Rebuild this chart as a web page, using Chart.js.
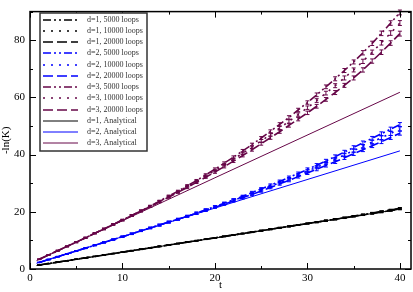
<!DOCTYPE html>
<html>
<head>
<meta charset="utf-8">
<script src="https://cdn.jsdelivr.net/npm/chart.js@4.4.1/dist/chart.umd.min.js"></script>
<style>
  body { margin: 0; background: #fff; }
  canvas { display: block; }
</style>
</head>
<body>
<canvas id="chart" width="413" height="292"></canvas>
<script>
// time steps of the simulations
const tSim = [1,2,3,4,5,6,7,8,9,10,11,12,13,14,15,16,17,18,19,20,
              21,22,23,24,25,26,27,28,29,30,31,32,33,34,35,36,37,38,39,40];

// d=1
const d1_5000  = [1.4,1.9,2.4,2.9,3.4,3.9,4.4,4.9,5.4,5.9,6.4,6.9,7.4,7.9,8.4,8.9,9.4,9.9,10.4,10.9,
                  11.4,11.9,12.4,12.9,13.4,13.9,14.4,14.9,15.4,15.9,16.4,16.9,17.4,17.95,18.5,19.0,19.55,20.1,20.65,21.25];
const d1_10000 = [1.4,1.9,2.4,2.9,3.4,3.9,4.4,4.9,5.4,5.9,6.4,6.9,7.4,7.9,8.4,8.9,9.4,9.9,10.4,10.9,
                  11.4,11.9,12.4,12.9,13.4,13.9,14.4,14.9,15.4,15.9,16.4,16.9,17.4,17.9,18.45,18.95,19.5,20.0,20.55,21.1];
const d1_20000 = [1.4,1.9,2.4,2.9,3.4,3.9,4.4,4.9,5.4,5.9,6.4,6.9,7.4,7.9,8.4,8.9,9.4,9.9,10.4,10.9,
                  11.4,11.9,12.4,12.9,13.4,13.9,14.4,14.9,15.4,15.9,16.4,16.9,17.4,17.85,18.4,18.9,19.45,19.9,20.45,20.95];
// d=2
const d2_5000  = [2.3,3.3,4.3,5.3,6.3,7.3,8.3,9.3,10.3,11.3,12.3,13.35,14.35,15.35,16.4,17.4,18.45,19.5,20.7,21.8,
                  23.0,24.2,25.4,26.7,28.0,29.3,30.6,32.0,33.4,34.8,36.3,37.8,39.3,40.9,42.5,44.1,45.7,47.3,48.9,50.5];
const d2_10000 = [2.3,3.3,4.3,5.3,6.3,7.3,8.3,9.3,10.3,11.3,12.3,13.35,14.35,15.35,16.4,17.4,18.45,19.5,20.6,21.7,
                  22.85,24.0,25.2,26.4,27.65,28.9,30.2,31.5,32.85,34.2,35.6,37.0,38.4,39.9,41.4,42.9,44.4,45.9,47.4,49.0];
const d2_20000 = [2.3,3.3,4.3,5.3,6.3,7.3,8.3,9.3,10.3,11.3,12.3,13.35,14.35,15.35,16.4,17.4,18.45,19.5,20.5,21.6,
                  22.7,23.8,24.9,26.1,27.3,28.5,29.8,31.0,32.3,33.6,34.9,36.2,37.5,38.9,40.3,41.7,43.1,44.5,46.0,47.5];
// d=3
const d3_5000  = [3.4,4.9,6.4,7.9,9.4,10.9,12.5,14.0,15.6,17.1,18.7,20.3,22.0,23.7,25.5,27.2,29.1,30.9,32.9,34.9,
                  37.0,39.1,41.3,43.5,45.8,48.1,50.6,53.0,55.6,58.2,60.9,63.7,66.5,69.4,72.4,75.6,78.9,82.4,86.0,89.7];
const d3_10000 = [3.4,4.9,6.4,7.9,9.4,10.9,12.5,14.0,15.6,17.1,18.7,20.3,21.9,23.6,25.3,27.0,28.8,30.6,32.5,34.4,
                  36.4,38.4,40.5,42.6,44.8,47.0,49.3,51.6,54.0,56.4,58.9,61.5,64.1,66.8,69.6,72.6,75.8,79.1,82.5,86.0];
const d3_20000 = [3.4,4.9,6.4,7.9,9.4,10.9,12.5,14.0,15.6,17.1,18.7,20.3,21.8,23.5,25.1,26.8,28.5,30.3,32.1,33.9,
                  35.8,37.7,39.7,41.7,43.8,45.9,48.0,50.2,52.4,54.6,56.9,59.3,61.7,64.2,66.8,69.6,72.7,75.8,79.0,82.3];

// error bar half-heights
const errD1 = [0.05,0.05,0.05,0.05,0.05,0.05,0.05,0.05,0.05,0.05,0.1,0.1,0.1,0.1,0.1,0.1,0.1,0.1,0.1,0.1,
               0.1,0.1,0.1,0.15,0.15,0.15,0.15,0.15,0.15,0.15,0.2,0.2,0.2,0.2,0.2,0.2,0.25,0.25,0.25,0.25];
const errD2 = [0.05,0.1,0.1,0.1,0.15,0.15,0.15,0.2,0.2,0.2,0.25,0.25,0.25,0.3,0.3,0.3,0.3,0.35,0.35,0.35,
               0.4,0.4,0.4,0.45,0.45,0.45,0.5,0.5,0.5,0.55,0.55,0.55,0.6,0.6,0.6,0.65,0.65,0.65,0.7,0.7];
const errD3 = [0.1,0.1,0.15,0.15,0.2,0.2,0.2,0.25,0.25,0.25,0.3,0.3,0.3,0.35,0.35,0.35,0.4,0.4,0.4,0.45,
               0.45,0.45,0.5,0.5,0.5,0.55,0.55,0.6,0.6,0.6,0.65,0.65,0.7,0.7,0.7,0.75,0.75,0.8,0.8,0.85];

// analytical lines (straight)
const tAna = [0.7, 20, 40];
const ana1 = [1.2, 10.85, 20.9];
const ana2 = [2.0, 21.3, 41.3];
const ana3 = [2.9, 31.9, 61.8];

const xTickStep = 5;
const yTickStep = 10;

const BLACK = '#000000', BLUE = '#0000ff', MAROON = '#670748';
const DASHDOT = [8, 3, 2, 3, 2, 3], DOTS = [2, 6], DASHES = [10, 4];
const FONT = "'Liberation Serif', 'Times New Roman', serif";

function pts(ts, vs) {
    return ts.map((t, i) => ({ x: t, y: vs[i] }));
}

function sim(label, vals, errs, color, dash) {
    return {
        label: label, data: pts(tSim, vals), errs: errs,
        borderColor: color, borderDash: dash, borderWidth: 1.6,
        pointRadius: 0, tension: 0, fill: false
    };
}

function analytic(label, vals, color) {
    return {
        label: label, data: pts(tAna, vals),
        borderColor: color, borderDash: [], borderWidth: 1,
        pointRadius: 0, tension: 0, fill: false
    };
}

// error bars through the y scale
const errorBars = {
    id: 'errorBars',
    afterDatasetsDraw(chart) {
        const ctx = chart.ctx;
        const ys = chart.scales.y;
        ctx.save();
        ctx.lineWidth = 1;
        ctx.setLineDash([]);
        chart.data.datasets.forEach((ds, i) => {
            if (!ds.errs) return;
            const meta = chart.getDatasetMeta(i);
            ctx.strokeStyle = ds.borderColor;
            ctx.beginPath();
            meta.data.forEach((pt, j) => {
                const v = ds.data[j].y, e = ds.errs[j];
                const yt = ys.getPixelForValue(v + e), yb = ys.getPixelForValue(v - e);
                ctx.moveTo(pt.x, yt); ctx.lineTo(pt.x, yb);
                ctx.moveTo(pt.x - 2, yt); ctx.lineTo(pt.x + 2, yt);
                ctx.moveTo(pt.x - 2, yb); ctx.lineTo(pt.x + 2, yb);
            });
            ctx.stroke();
        });
        ctx.restore();
    }
};

// frame with inward ticks on all four sides
const frameTicks = {
    id: 'frameTicks',
    afterDatasetsDraw(chart) {
        const ctx = chart.ctx;
        const a = chart.chartArea;
        const xs = chart.scales.x, ys = chart.scales.y;
        ctx.save();
        ctx.strokeStyle = '#000';
        ctx.setLineDash([]);
        ctx.lineWidth = 1.5;
        ctx.strokeRect(a.left, a.top, a.right - a.left, a.bottom - a.top);
        ctx.lineWidth = 1;
        ctx.beginPath();
        xs.ticks.forEach(t => {
            const px = Math.round(xs.getPixelForValue(t.value)) + 0.5;
            const len = t.value % 10 === 0 ? 6 : 3;
            ctx.moveTo(px, a.bottom); ctx.lineTo(px, a.bottom - len);
            ctx.moveTo(px, a.top); ctx.lineTo(px, a.top + len);
        });
        ys.ticks.forEach(t => {
            const py = Math.round(ys.getPixelForValue(t.value)) + 0.5;
            const len = t.value % 20 === 0 ? 6 : 3;
            ctx.moveTo(a.left, py); ctx.lineTo(a.left + len, py);
            ctx.moveTo(a.right, py); ctx.lineTo(a.right - len, py);
        });
        ctx.stroke();
        ctx.restore();
    }
};

// boxed legend inside the plot
const legendBox = {
    id: 'legendBox',
    afterDraw(chart) {
        const ctx = chart.ctx;
        const x0 = 40, y0 = 13, w = 107, h = 138, row = 11.25;
        ctx.save();
        ctx.fillStyle = '#fff';
        ctx.fillRect(x0, y0, w, h);
        ctx.strokeStyle = '#333';
        ctx.lineWidth = 1.5;
        ctx.strokeRect(x0, y0, w, h);
        ctx.font = '8px ' + FONT;
        ctx.textBaseline = 'middle';
        chart.data.datasets.forEach((ds, i) => {
            const y = Math.round(y0 + 6.5 + i * row);
            ctx.beginPath();
            ctx.setLineDash(ds.borderDash);
            ctx.strokeStyle = ds.borderColor;
            ctx.lineWidth = ds.borderWidth;
            ctx.moveTo(43, y);
            ctx.lineTo(78, y);
            ctx.stroke();
            ctx.setLineDash([]);
            ctx.fillStyle = '#333';
            ctx.fillText(ds.label, 87, y);
        });
        ctx.restore();
    }
};

new Chart(document.getElementById('chart'), {
    type: 'line',
    data: {
        datasets: [
            sim('d=1, 5000 loops', d1_5000, errD1, BLACK, DASHDOT),
            sim('d=1, 10000 loops', d1_10000, errD1, BLACK, DOTS),
            sim('d=1, 20000 loops', d1_20000, errD1, BLACK, DASHES),
            sim('d=2, 5000 loops', d2_5000, errD2, BLUE, DASHDOT),
            sim('d=2, 10000 loops', d2_10000, errD2, BLUE, DOTS),
            sim('d=2, 20000 loops', d2_20000, errD2, BLUE, DASHES),
            sim('d=3, 5000 loops', d3_5000, errD3, MAROON, DASHDOT),
            sim('d=3, 10000 loops', d3_10000, errD3, MAROON, DOTS),
            sim('d=3, 20000 loops', d3_20000, errD3, MAROON, DASHES),
            analytic('d=1, Analytical', ana1, BLACK),
            analytic('d=2, Analytical', ana2, BLUE),
            analytic('d=3, Analytical', ana3, MAROON)
        ]
    },
    options: {
        responsive: false,
        animation: false,
        devicePixelRatio: 1,
        layout: { padding: { top: 2, right: 2, left: 0, bottom: 0 } },
        plugins: {
            legend: { display: false },
            tooltip: { enabled: false }
        },
        scales: {
            x: {
                type: 'linear',
                min: 0,
                max: 41.2,
                grid: { display: false, drawTicks: false },
                border: { display: false },
                ticks: {
                    stepSize: xTickStep,
                    includeBounds: false,
                    autoSkip: false,
                    maxRotation: 0,
                    padding: 3,
                    color: '#000',
                    font: { family: FONT, size: 11 },
                    callback: v => (v % 10 === 0 ? v : '')
                },
                title: {
                    display: true, text: 't', color: '#000',
                    padding: { top: 0, bottom: 0 },
                    font: { family: FONT, size: 11, lineHeight: 1.2 }
                },
                afterFit: s => { s.height = 23; }
            },
            y: {
                type: 'linear',
                min: 0,
                max: 90,
                grid: { display: false, drawTicks: false },
                border: { display: false },
                ticks: {
                    stepSize: yTickStep,
                    includeBounds: false,
                    autoSkip: false,
                    padding: 5,
                    color: '#000',
                    font: { family: FONT, size: 11 },
                    callback: v => (v % 20 === 0 ? v : '')
                },
                title: {
                    display: true, text: '-ln(K)', color: '#000',
                    padding: { top: 0, bottom: 0 },
                    font: { family: FONT, size: 11, lineHeight: 1.2 }
                },
                afterFit: s => { s.width = 30; }
            }
        }
    },
    plugins: [errorBars, frameTicks, legendBox]
});
</script>
</body>
</html>
